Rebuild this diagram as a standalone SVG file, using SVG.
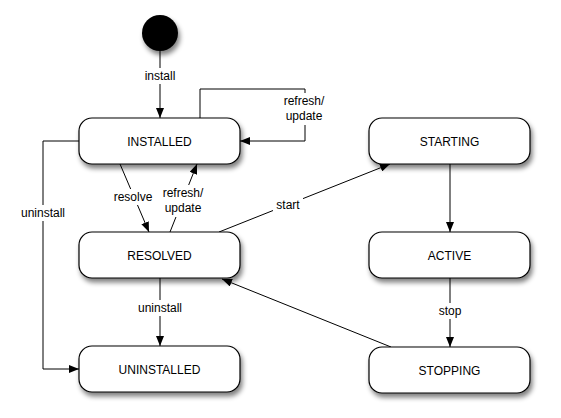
<svg xmlns="http://www.w3.org/2000/svg" width="561" height="418" viewBox="0 0 561 418">
<style>
.node rect{fill:#fff;stroke:#000;stroke-width:1.2}
.node text{font-family:"Liberation Sans",Arial,sans-serif;font-size:12px;fill:#000;text-anchor:middle}
.edges path{fill:none;stroke:#000;stroke-width:1}
.lbl rect{fill:#fff}
.lbl text{font-family:"Liberation Sans",Arial,sans-serif;font-size:12px;fill:#000;text-anchor:middle}
</style>
<defs>
<filter id="sh" x="-20%" y="-20%" width="150%" height="160%">
<feGaussianBlur in="SourceAlpha" stdDeviation="2.5"/>
<feOffset dx="2" dy="4" result="b"/>
<feComponentTransfer><feFuncA type="linear" slope="0.5"/></feComponentTransfer>
<feMerge><feMergeNode/><feMergeNode in="SourceGraphic"/></feMerge>
</filter>
<marker id="ar" viewBox="0 0 10 8" refX="10" refY="4" markerWidth="10" markerHeight="8" markerUnits="userSpaceOnUse" orient="auto">
<path d="M0,0 L10,4 L0,8 Z" fill="#000"/>
</marker>
</defs>
<g id="start-state"><circle cx="160" cy="33" r="18" fill="#000" filter="url(#sh)"/></g>
<g class="edges" id="connectors">
<path d="M160,51 V118" marker-end="url(#ar)"/>
<path d="M200,118 V89 H305 V141 H240" marker-end="url(#ar)"/>
<path d="M79,141 H43 V369 H79" marker-end="url(#ar)"/>
<path d="M120,164 L149,232" marker-end="url(#ar)"/>
<path d="M170,232 L197,164" marker-end="url(#ar)"/>
<path d="M219,232 L390,164" marker-end="url(#ar)"/>
<path d="M160,278 V346" marker-end="url(#ar)"/>
<path d="M450,164 V232" marker-end="url(#ar)"/>
<path d="M450,278 V347" marker-end="url(#ar)"/>
<path d="M391,347 L222,279" marker-end="url(#ar)"/>
</g>
<g class="lbl" id="labels">
<rect x="142" y="68" width="36" height="16"/><text x="160" y="80">install</text>
<rect x="282" y="93" width="44" height="32"/><text x="304" y="105">refresh/</text><text x="304" y="120">update</text>
<rect x="18" y="205" width="50" height="16"/><text x="43" y="217">uninstall</text>
<rect x="112" y="189" width="42" height="16"/><text x="133" y="201">resolve</text>
<rect x="162" y="185" width="42" height="32"/><text x="183" y="197">refresh/</text><text x="183" y="212">update</text>
<rect x="273" y="197" width="30" height="16"/><text x="288" y="209">start</text>
<rect x="135" y="300" width="50" height="16"/><text x="160" y="312">uninstall</text>
<rect x="436" y="303" width="28" height="16"/><text x="450" y="315">stop</text>
</g>
<g class="node" id="installed"><rect x="79" y="118" width="161" height="46" rx="13" filter="url(#sh)"/><text x="159.5" y="145.5">INSTALLED</text></g>
<g class="node" id="resolved"><rect x="79" y="232" width="161" height="46" rx="13" filter="url(#sh)"/><text x="159.5" y="259.5">RESOLVED</text></g>
<g class="node" id="uninstalled"><rect x="79" y="346" width="161" height="46" rx="13" filter="url(#sh)"/><text x="159.5" y="373.5">UNINSTALLED</text></g>
<g class="node" id="starting"><rect x="369" y="118" width="161" height="46" rx="13" filter="url(#sh)"/><text x="449.5" y="145.5">STARTING</text></g>
<g class="node" id="active"><rect x="369" y="232" width="161" height="46" rx="13" filter="url(#sh)"/><text x="449.5" y="259.5">ACTIVE</text></g>
<g class="node" id="stopping"><rect x="369" y="347" width="161" height="46" rx="13" filter="url(#sh)"/><text x="449.5" y="374.5">STOPPING</text></g>
</svg>
